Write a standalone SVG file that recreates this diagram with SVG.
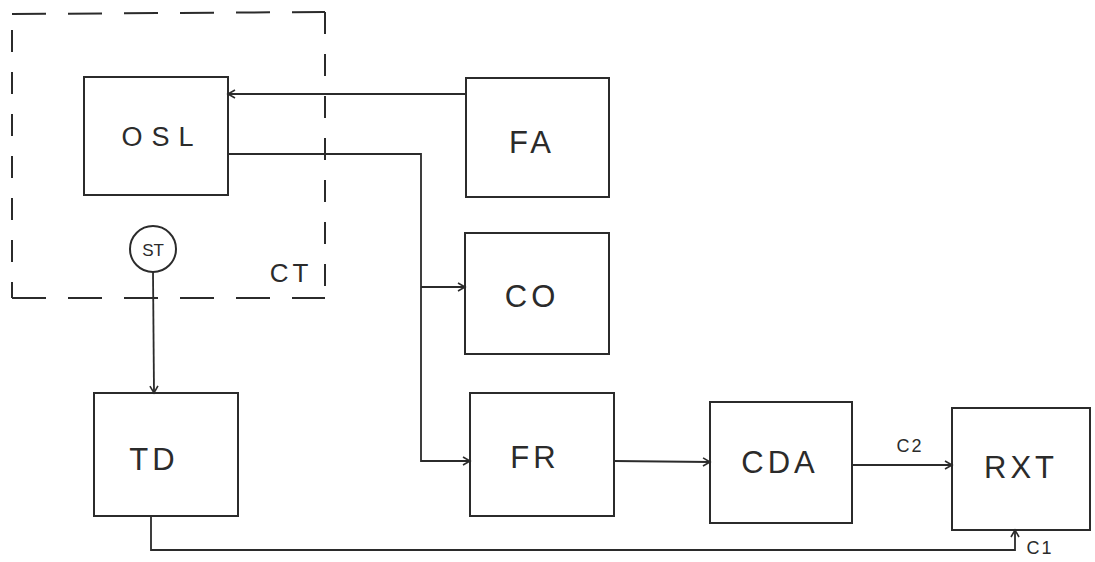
<svg xmlns="http://www.w3.org/2000/svg" width="1095" height="562" viewBox="0 0 1095 562">
<style>
.box{fill:none;stroke:#2b2b2b;stroke-width:2}
.lbl{font-family:"Liberation Sans",Arial,sans-serif;font-size:31px;fill:#2b2b2b;text-anchor:middle;letter-spacing:4px}
.sm{font-family:"Liberation Sans",Arial,sans-serif;font-size:18px;fill:#2b2b2b;text-anchor:middle}
.ln{fill:none;stroke:#2b2b2b;stroke-width:1.8}
.dash{fill:none;stroke:#2b2b2b;stroke-width:2;stroke-dasharray:34 22}
</style>
<defs>
<marker id="arr" markerWidth="12" markerHeight="12" refX="10" refY="6" orient="auto" markerUnits="userSpaceOnUse">
<polyline points="3,2 10,6 3,10" fill="none" stroke="#2b2b2b" stroke-width="1.6"/>
</marker>
</defs>
<rect width="1095" height="562" fill="#ffffff"/>
<g id="CT">
<path class="dash" d="M12,14 L325,12"/>
<path class="dash" d="M325,12 L325,298" style="stroke-dasharray:22 20"/>
<path class="dash" d="M12,298 L325,298"/>
<path class="dash" d="M12,30 L12,298" style="stroke-dasharray:22 20"/>
<text class="sm" x="291" y="282" style="font-size:26px;letter-spacing:4px">CT</text>
</g>
<g id="OSL"><rect class="box" x="84" y="77" width="144" height="118"/><text class="lbl" x="162" y="146" style="font-size:27px;letter-spacing:9px">OSL</text></g>
<g id="FA"><rect class="box" x="466" y="78" width="143" height="119"/><text class="lbl" x="532" y="153">FA</text></g>
<g id="CO"><rect class="box" x="465" y="233" width="144" height="121"/><text class="lbl" x="532" y="307">CO</text></g>
<g id="FR"><rect class="box" x="470" y="393" width="144" height="123"/><text class="lbl" x="535" y="468">FR</text></g>
<g id="CDA"><rect class="box" x="710" y="402" width="142" height="121"/><text class="lbl" x="780" y="473">CDA</text></g>
<g id="RXT"><rect class="box" x="952" y="408" width="138" height="122"/><text class="lbl" x="1021" y="478">RXT</text></g>
<g id="TD"><rect class="box" x="94" y="393" width="144" height="123"/><text class="lbl" x="154" y="470">TD</text></g>
<g id="ST"><circle class="box" cx="153" cy="249" r="23"/><text class="sm" x="153" y="256" style="font-size:17px">ST</text></g>
<g id="connectors">
<path class="ln" d="M466,94 L228,94" marker-end="url(#arr)"/>
<path class="ln" d="M228,154 L421,154 L421,461 L470,461" marker-end="url(#arr)"/>
<path class="ln" d="M421,287 L465,287" marker-end="url(#arr)"/>
<path class="ln" d="M614,461 L710,462" marker-end="url(#arr)"/>
<path class="ln" d="M852,465 L952,465" marker-end="url(#arr)"/>
<path class="ln" d="M153,272 L154,393" marker-end="url(#arr)"/>
<path class="ln" d="M151,516 L151,550 L1015,550 L1015,530" marker-end="url(#arr)"/>
<text class="sm" x="910" y="452" style="letter-spacing:2px">C2</text>
<text class="sm" x="1040" y="554" style="letter-spacing:2px">C1</text>
</g>
</svg>
